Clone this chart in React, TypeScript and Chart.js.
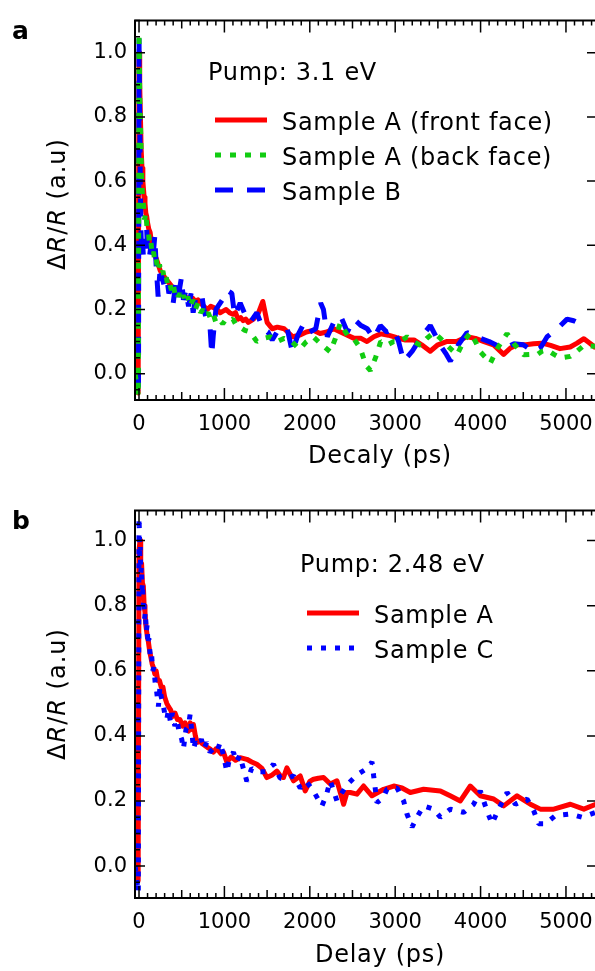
import React, { useEffect, useRef } from "react";
import { Chart, registerables } from "chart.js";

Chart.register(...registerables);

// ---------- DATA ----------
// Panel a (Pump 3.1 eV)
const aFrontT = [-45, -10, 0, 8, 15, 25, 35, 45, 60, 70, 80, 90, 100, 115, 130, 145, 160, 180, 200, 225, 250, 275, 300, 330, 360, 390, 420, 450, 480, 510, 540, 570, 600, 630, 660, 690, 720, 760, 800, 840, 880, 915, 950, 985, 1020, 1060, 1100, 1130, 1160, 1190, 1220, 1250, 1280, 1340, 1400, 1450, 1500, 1560, 1620, 1700, 1800, 1880, 1960, 2040, 2120, 2200, 2280, 2360, 2440, 2520, 2600, 2670, 2750, 2830, 2920, 3020, 3120, 3220, 3310, 3410, 3500, 3600, 3720, 3840, 3940, 4040, 4150, 4270, 4350, 4430, 4530, 4620, 4720, 4820, 4930, 5050, 5130, 5210, 5280, 5350];
const aFrontV = [0.0, -0.06, 1.0, 0.9, 0.82, 0.7, 0.64, 0.6, 0.55, 0.53, 0.5, 0.49, 0.47, 0.45, 0.44, 0.41, 0.4, 0.37, 0.36, 0.34, 0.32, 0.31, 0.3, 0.29, 0.28, 0.27, 0.26, 0.255, 0.25, 0.245, 0.24, 0.235, 0.23, 0.235, 0.225, 0.23, 0.22, 0.21, 0.2, 0.21, 0.205, 0.2, 0.19, 0.195, 0.2, 0.19, 0.185, 0.19, 0.17, 0.175, 0.165, 0.17, 0.16, 0.17, 0.19, 0.225, 0.16, 0.14, 0.145, 0.14, 0.115, 0.12, 0.13, 0.135, 0.125, 0.13, 0.14, 0.13, 0.12, 0.11, 0.11, 0.1, 0.115, 0.124, 0.12, 0.112, 0.105, 0.105, 0.09, 0.07, 0.09, 0.1, 0.1, 0.115, 0.11, 0.1, 0.09, 0.06, 0.08, 0.09, 0.09, 0.093, 0.095, 0.088, 0.078, 0.083, 0.095, 0.109, 0.095, 0.08];

const aBackT = [-45, -8, 0, 10, 20, 30, 40, 55, 65, 80, 95, 110, 125, 140, 155, 170, 185, 200, 220, 240, 260, 280, 300, 320, 340, 360, 380, 400, 420, 440, 460, 480, 500, 520, 545, 570, 600, 630, 660, 690, 720, 750, 780, 810, 840, 870, 900, 940, 980, 1020, 1060, 1100, 1140, 1180, 1240, 1300, 1380, 1460, 1540, 1620, 1700, 1790, 1880, 1960, 2044, 2140, 2240, 2300, 2357, 2440, 2513, 2590, 2660, 2710, 2770, 2830, 2910, 2983, 3060, 3139, 3220, 3295, 3370, 3451, 3530, 3607, 3680, 3724, 3800, 3880, 3940, 3997, 4060, 4115, 4200, 4310, 4400, 4505, 4580, 4661, 4720, 4779, 4860, 4935, 5052, 5130, 5209, 5350];
const aBackV = [0.0, -0.07, 1.06, 0.85, 0.75, 0.62, 0.55, 0.52, 0.48, 0.5, 0.45, 0.44, 0.4, 0.41, 0.37, 0.38, 0.35, 0.36, 0.32, 0.34, 0.31, 0.32, 0.29, 0.3, 0.27, 0.28, 0.26, 0.28, 0.25, 0.26, 0.24, 0.25, 0.23, 0.245, 0.22, 0.24, 0.21, 0.23, 0.2, 0.22, 0.19, 0.2, 0.18, 0.19, 0.17, 0.185, 0.16, 0.17, 0.155, 0.17, 0.165, 0.17, 0.15, 0.145, 0.135, 0.13, 0.1, 0.11, 0.115, 0.1, 0.11, 0.1, 0.075, 0.1, 0.114, 0.09, 0.068, 0.11, 0.158, 0.12, 0.11, 0.08, 0.025, 0.01, 0.05, 0.1, 0.09, 0.1, 0.1, 0.115, 0.1, 0.088, 0.11, 0.128, 0.11, 0.088, 0.07, 0.059, 0.1, 0.128, 0.1, 0.068, 0.05, 0.033, 0.08, 0.125, 0.09, 0.059, 0.06, 0.059, 0.07, 0.074, 0.06, 0.049, 0.054, 0.07, 0.088, 0.085];

const aSampleBT = [-45, -6, 0, 8, 15, 22, 30, 40, 50, 60, 75, 90, 100, 120, 140, 160, 185, 200, 224, 243, 270, 300, 330, 350, 380, 400, 430, 460, 497, 520, 550, 580, 610, 634, 660, 700, 732, 760, 790, 833, 852, 870, 900, 950, 1000, 1028, 1087, 1120, 1185, 1250, 1302, 1380, 1450, 1510, 1560, 1640, 1736, 1795, 1860, 1932, 2000, 2070, 2127, 2160, 2205, 2280, 2361, 2440, 2517, 2600, 2673, 2750, 2826, 2900, 2983, 3040, 3099, 3200, 3295, 3411, 3470, 3529, 3600, 3646, 3740, 3841, 3920, 3997, 4100, 4232, 4300, 4388, 4500, 4622, 4700, 4779, 4900, 5013, 5090, 5169];
const aSampleBV = [0.0, -0.07, 1.05, 0.8, 0.6, 0.45, 0.38, 0.42, 0.37, 0.42, 0.39, 0.45, 0.38, 0.36, 0.4, 0.35, 0.43, 0.34, 0.24, 0.31, 0.3, 0.27, 0.29, 0.25, 0.27, 0.22, 0.28, 0.24, 0.3, 0.23, 0.26, 0.21, 0.25, 0.19, 0.23, 0.24, 0.25, 0.2, 0.17, 0.14, 0.059, 0.12, 0.2, 0.22, 0.24, 0.26, 0.25, 0.18, 0.22, 0.18, 0.16, 0.19, 0.14, 0.13, 0.105, 0.14, 0.14, 0.068, 0.12, 0.157, 0.13, 0.14, 0.22, 0.2, 0.115, 0.16, 0.18, 0.13, 0.17, 0.15, 0.14, 0.11, 0.15, 0.13, 0.14, 0.1, 0.039, 0.07, 0.11, 0.15, 0.12, 0.088, 0.06, 0.039, 0.09, 0.128, 0.12, 0.11, 0.1, 0.083, 0.08, 0.093, 0.09, 0.068, 0.08, 0.115, 0.14, 0.17, 0.165, 0.155];

// Panel b (Pump 2.48 eV)
const bSampleAT = [-45, -10, 0, 12, 20, 30, 40, 51, 60, 70, 80, 90, 100, 109, 125, 140, 155, 168, 185, 200, 220, 240, 260, 280, 300, 325, 345, 370, 395, 422, 450, 480, 510, 539, 560, 580, 600, 620, 637, 660, 680, 715, 745, 774, 800, 830, 871, 900, 930, 960, 989, 1028, 1080, 1130, 1185, 1263, 1320, 1380, 1440, 1497, 1560, 1614, 1660, 1692, 1732, 1810, 1888, 1946, 2000, 2044, 2100, 2161, 2240, 2318, 2396, 2435, 2474, 2552, 2630, 2728, 2865, 2983, 3080, 3177, 3333, 3529, 3650, 3763, 3880, 3997, 4153, 4271, 4427, 4583, 4700, 4857, 5052, 5209, 5350];
const bSampleAV = [0.0, -0.045, 0.97, 1.0, 0.92, 0.93, 0.87, 0.86, 0.8, 0.78, 0.74, 0.72, 0.7, 0.69, 0.66, 0.64, 0.62, 0.61, 0.59, 0.6, 0.57, 0.57, 0.55, 0.55, 0.52, 0.5, 0.49, 0.48, 0.46, 0.47, 0.45, 0.45, 0.43, 0.44, 0.42, 0.415, 0.44, 0.42, 0.435, 0.4, 0.38, 0.384, 0.375, 0.37, 0.365, 0.36, 0.35, 0.36, 0.355, 0.345, 0.35, 0.32, 0.335, 0.325, 0.333, 0.328, 0.32, 0.313, 0.3, 0.272, 0.28, 0.292, 0.275, 0.272, 0.302, 0.262, 0.277, 0.231, 0.26, 0.267, 0.27, 0.272, 0.252, 0.262, 0.19, 0.226, 0.226, 0.221, 0.246, 0.216, 0.236, 0.246, 0.24, 0.226, 0.236, 0.231, 0.215, 0.2, 0.246, 0.216, 0.206, 0.185, 0.216, 0.19, 0.175, 0.175, 0.19, 0.175, 0.19];

const bSampleCT = [-45, -8, 0, 5, 10, 15, 20, 28, 35, 42, 50, 58, 65, 75, 85, 95, 105, 115, 130, 145, 160, 175, 190, 207, 227, 245, 260, 280, 300, 325, 345, 370, 390, 420, 445, 470, 500, 520, 550, 579, 598, 620, 637, 660, 700, 730, 760, 793, 830, 870, 910, 950, 990, 1028, 1060, 1106, 1140, 1180, 1263, 1320, 1380, 1500, 1575, 1653, 1740, 1810, 1888, 1960, 2044, 2142, 2190, 2240, 2318, 2435, 2552, 2670, 2728, 2748, 2787, 2860, 2904, 3021, 3099, 3138, 3197, 3255, 3333, 3451, 3529, 3646, 3802, 3919, 3997, 4075, 4134, 4193, 4310, 4408, 4544, 4622, 4681, 4759, 4876, 5052, 5189, 5350];
const bSampleCV = [0.0, -0.08, 1.07, 1.02, 0.95, 0.98, 0.9, 0.92, 0.85, 0.87, 0.8, 0.82, 0.76, 0.78, 0.72, 0.74, 0.68, 0.7, 0.65, 0.66, 0.6, 0.61, 0.56, 0.535, 0.49, 0.55, 0.52, 0.5, 0.47, 0.45, 0.48, 0.44, 0.47, 0.43, 0.45, 0.41, 0.39, 0.36, 0.42, 0.43, 0.465, 0.41, 0.36, 0.38, 0.37, 0.39, 0.36, 0.38, 0.35, 0.36, 0.35, 0.38, 0.34, 0.29, 0.33, 0.35, 0.32, 0.34, 0.26, 0.3, 0.29, 0.29, 0.313, 0.27, 0.27, 0.277, 0.24, 0.26, 0.23, 0.185, 0.215, 0.262, 0.2, 0.25, 0.28, 0.3, 0.32, 0.277, 0.195, 0.21, 0.236, 0.24, 0.2, 0.16, 0.12, 0.15, 0.185, 0.175, 0.15, 0.175, 0.165, 0.19, 0.231, 0.17, 0.13, 0.165, 0.226, 0.19, 0.206, 0.17, 0.13, 0.13, 0.155, 0.16, 0.15, 0.165];

const xTickValues = [0, 1000, 2000, 3000, 4000, 5000];
const yTickValues = [0.0, 0.2, 0.4, 0.6, 0.8, 1.0];

const FONT = "'DejaVu Sans', sans-serif";
const RED = "#ff0000";
const GREEN = "#11cc11";
const BLUE = "#0000ff";

function pts(t: number[], v: number[]) {
  return t.map((x, i) => ({ x, y: v[i] }));
}

type Part = { text: string; italic?: boolean };

function richWidth(ctx: CanvasRenderingContext2D, parts: Part[], size: number) {
  let w = 0;
  for (const p of parts) {
    ctx.font = `${p.italic ? "italic " : ""}${size}px ${FONT}`;
    w += ctx.measureText(p.text).width;
  }
  return w;
}

function drawRich(ctx: CanvasRenderingContext2D, parts: Part[], x: number, y: number, size: number, center: boolean) {
  const w = richWidth(ctx, parts, size);
  let cx = center ? x - w / 2 : x;
  ctx.textBaseline = "alphabetic";
  ctx.textAlign = "left";
  for (const p of parts) {
    ctx.font = `${p.italic ? "italic " : ""}${size}px ${FONT}`;
    ctx.fillText(p.text, cx, y);
    cx += ctx.measureText(p.text).width;
  }
}

type LegendItem = { label: string; color: string; dash: number[] };

type PanelCfg = {
  panelLabel: string;
  pump: string;
  pumpX: number;
  pumpY: number;
  legend: LegendItem[];
  legX: number;
  legY: number;
  legStep: number;
  xTitle: string;
  yTitleY: number;
  xTitleY: number;
  yMin: number;
  yMax: number;
  padTop: number;
  height: number;
};

function makePlugin(cfg: PanelCfg) {
  return {
    id: "frameAndText",
    afterDraw(chart: any) {
      const ctx: CanvasRenderingContext2D = chart.ctx;
      const { left, top, right, bottom } = chart.chartArea;
      const xs = chart.scales.x;
      const ys = chart.scales.y;
      ctx.save();
      ctx.strokeStyle = "#000";
      ctx.lineCap = "butt";
      ctx.setLineDash([]);
      ctx.lineWidth = 2;
      ctx.beginPath();
      ctx.moveTo(right + 2, top);
      ctx.lineTo(left, top);
      ctx.lineTo(left, bottom);
      ctx.lineTo(right + 2, bottom);
      ctx.stroke();
      ctx.lineWidth = 1.5;
      ctx.beginPath();
      for (let t = 0; t <= 5400; t += 100) {
        const px = xs.getPixelForValue(t);
        if (px > right + 1) break;
        const len = t % 1000 === 0 ? 12 : t % 500 === 0 ? 8 : 5;
        ctx.moveTo(px, bottom);
        ctx.lineTo(px, bottom - len);
        ctx.moveTo(px, top);
        ctx.lineTo(px, top + len);
      }
      for (let k = -2; k <= 22; k++) {
        const v = k * 0.05;
        if (v < cfg.yMin || v > cfg.yMax) continue;
        const py = ys.getPixelForValue(v);
        const major = k % 4 === 0;
        const len = major ? 10 : 5;
        ctx.moveTo(left, py);
        ctx.lineTo(left + len, py);
        if (major) {
          ctx.moveTo(right, py);
          ctx.lineTo(right - 8, py);
        }
      }
      ctx.stroke();

      ctx.fillStyle = "#000";
      // panel label
      ctx.font = `bold 25px ${FONT}`;
      ctx.textAlign = "left";
      ctx.textBaseline = "alphabetic";
      ctx.fillText(cfg.panelLabel, 12, 39);

      (ctx as any).letterSpacing = "0.7px";
      // pump text
      ctx.font = `24px ${FONT}`;
      ctx.fillText(cfg.pump, cfg.pumpX, cfg.pumpY);
      // legend
      cfg.legend.forEach((it, i) => {
        const by = cfg.legY + i * cfg.legStep;
        ctx.save();
        ctx.strokeStyle = it.color;
        ctx.lineWidth = 5;
        ctx.setLineDash(it.dash);
        ctx.beginPath();
        ctx.moveTo(cfg.legX, by - 10);
        ctx.lineTo(cfg.legX + 52, by - 10);
        ctx.stroke();
        ctx.restore();
        ctx.font = `24px ${FONT}`;
        ctx.fillStyle = "#000";
        ctx.textAlign = "left";
        ctx.fillText(it.label, cfg.legX + 67, by);
      });
      // x title
      ctx.textAlign = "center";
      ctx.font = `24px ${FONT}`;
      ctx.fillText(cfg.xTitle, 380, cfg.xTitleY);

      // y title rotated
      (ctx as any).letterSpacing = "1px";
      ctx.save();
      ctx.translate(65, cfg.yTitleY);
      ctx.rotate(-Math.PI / 2);
      drawRich(
        ctx,
        [
          { text: "\u0394" },
          { text: "R", italic: true },
          { text: "/" },
          { text: "R", italic: true },
          { text: " (a.u)" },
        ],
        0,
        0,
        24,
        true
      );
      ctx.restore();
      (ctx as any).letterSpacing = "0px";
      ctx.restore();
    },
  };
}

function Panel({ cfg, datasets, top }: { cfg: PanelCfg; datasets: any[]; top: number }) {
  const ref = useRef<HTMLCanvasElement | null>(null);
  useEffect(() => {
    if (!ref.current) return;
    const chart = new Chart(ref.current, {
      type: "line",
      data: { datasets },
      options: {
        responsive: false,
        animation: false,
        devicePixelRatio: 1,
        layout: { padding: { top: cfg.padTop, left: 0, right: 0, bottom: 0 } },
        plugins: { legend: { display: false }, tooltip: { enabled: false } },
        elements: { point: { radius: 0 }, line: { tension: 0 } },
        scales: {
          x: {
            type: "linear",
            min: -47,
            max: 5340,
            grid: { display: false, drawTicks: false },
            border: { display: false },
            afterFit: (s: any) => {
              s.height = cfg.height - cfg.padTop - 390;
              s.paddingLeft = 0;
              s.paddingRight = 0;
            },
            afterBuildTicks: (s: any) => {
              s.ticks = xTickValues.map((v) => ({ value: v }));
            },
            ticks: {
              color: "#000",
              font: { family: FONT, size: 21 },
              padding: 12,
              maxRotation: 0,
              autoSkip: false,
              callback: (v: any) => String(v),
            },
          },
          y: {
            type: "linear",
            min: cfg.yMin,
            max: cfg.yMax,
            grid: { display: false, drawTicks: false },
            border: { display: false },
            afterFit: (s: any) => {
              s.width = 135;
            },
            afterBuildTicks: (s: any) => {
              s.ticks = yTickValues.map((v) => ({ value: v }));
            },
            ticks: {
              color: "#000",
              font: { family: FONT, size: 21 },
              padding: 8,
              autoSkip: false,
              callback: (v: any) => Number(v).toFixed(1),
            },
          },
        },
      },
      plugins: [makePlugin(cfg)],
    } as any);
    return () => chart.destroy();
  }, []);
  return (
    <canvas
      ref={ref}
      width={595}
      height={cfg.height}
      style={{ position: "absolute", left: 0, top, width: 595, height: cfg.height, display: "block" }}
    />
  );
}

const lineDs = (label: string, t: number[], v: number[], color: string, dash: number[], order: number) => ({
  label,
  data: pts(t, v),
  borderColor: color,
  backgroundColor: color,
  borderWidth: 5,
  borderDash: dash,
  borderCapStyle: "butt",
  borderJoinStyle: dash.length ? "bevel" : "round",
  pointRadius: 0,
  fill: false,
  order,
});

const topLegend: LegendItem[] = [
  { label: "Sample A (front face)", color: RED, dash: [] },
  { label: "Sample A (back face)", color: GREEN, dash: [6, 9] },
  { label: "Sample B", color: BLUE, dash: [18, 14] },
];
const bottomLegend: LegendItem[] = [
  { label: "Sample A", color: RED, dash: [] },
  { label: "Sample C", color: BLUE, dash: [5, 9] },
];

export default function App() {
  const topCfg: PanelCfg = {
    panelLabel: "a",
    pump: "Pump: 3.1 eV",
    pumpX: 208,
    pumpY: 80,
    legend: topLegend,
    legX: 215,
    legY: 130,
    legStep: 35,
    xTitle: "Decaly (ps)",
    yTitleY: 204,
    xTitleY: 463,
    yMin: -0.082,
    yMax: 1.1,
    padTop: 10,
    height: 480,
  };
  const botCfg: PanelCfg = {
    panelLabel: "b",
    pump: "Pump: 2.48 eV",
    pumpX: 300,
    pumpY: 82,
    legend: bottomLegend,
    legX: 307,
    legY: 133,
    legStep: 35,
    xTitle: "Delay (ps)",
    yTitleY: 204,
    xTitleY: 472,
    yMin: -0.098,
    yMax: 1.092,
    padTop: 18,
    height: 481,
  };
  const topData = [
    lineDs("Sample A (front face)", aFrontT, aFrontV, RED, [], 3),
    lineDs("Sample A (back face)", aBackT, aBackV, GREEN, [6, 9], 1),
    lineDs("Sample B", aSampleBT, aSampleBV, BLUE, [18, 14], 2),
  ];
  const botData = [
    lineDs("Sample A", bSampleAT, bSampleAV, RED, [], 2),
    lineDs("Sample C", bSampleCT, bSampleCV, BLUE, [5, 9], 1),
  ];
  return (
    <div style={{ position: "absolute", left: 0, top: 0, width: 595, height: 971, background: "#fff", overflow: "hidden" }}>
      <Panel cfg={topCfg} datasets={topData} top={0} />
      <Panel cfg={botCfg} datasets={botData} top={490} />
    </div>
  );
}
